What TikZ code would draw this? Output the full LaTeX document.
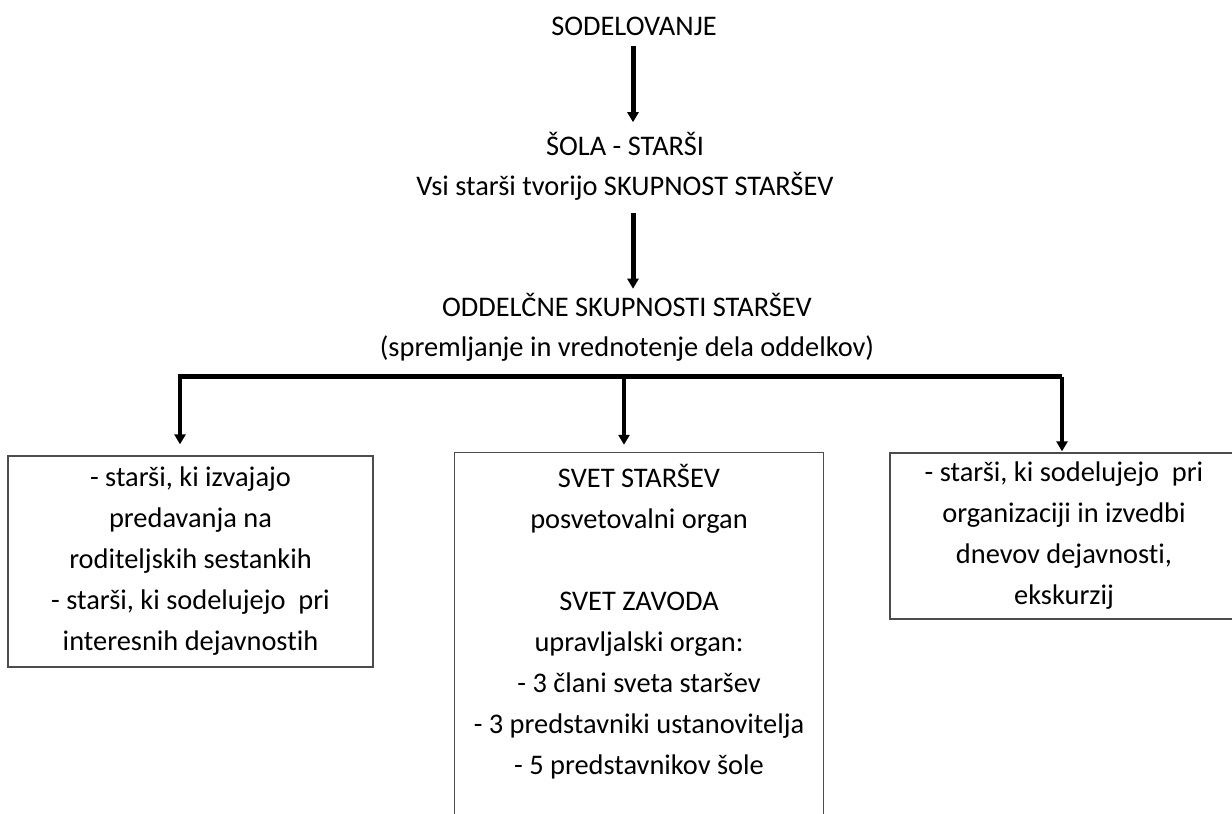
\documentclass[tikz,border=0pt]{standalone}
\usepackage{fontspec}
\setmainfont{Carlito}[Ligatures={NoCommon}]
\usetikzlibrary{arrows.meta}
\begin{document}
\begin{tikzpicture}[x=1pt,y=-1pt,
  txt/.style={font=\fontsize{28.4}{41}\selectfont, align=center, inner sep=0pt},
  toptxt/.style={font=\fontsize{28.4}{40}\selectfont, align=center, inner sep=0pt},
  boxed/.style={txt, draw=black!70, line width=1.3pt},
  arr/.style={line width=5pt, -{Triangle[width=11pt,length=10pt]}},
  brarr/.style={line width=4.5pt, line join=miter, -{Triangle[width=11pt,length=10pt]}},
  edge/.style={draw=black!70, line width=1.3pt}]
\useasboundingbox (0,0) rectangle (1232,814);
\clip (0,0) rectangle (1232,814);

\node[toptxt] (sod) at (634,26) {SODELOVANJE};
\node[toptxt] (sola) at (625,166.5) {ŠOLA - STARŠI\\Vsi starši tvorijo SKUPNOST STARŠEV};
\node[toptxt] (odd) at (627,327) {ODDELČNE SKUPNOSTI STARŠEV\\(spremljanje in vrednotenje dela oddelkov)};

\node[boxed, minimum width=365pt, minimum height=211pt] (lbox) at (190.5,561.5)
  {- starši, ki izvajajo\\predavanja na\\roditeljskih sestankih\\- starši, ki sodelujejo\ \ pri\\interesnih dejavnostih};

\node[txt, minimum width=368pt, minimum height=338pt] (mbox) at (639,622)
  {SVET STARŠEV\\posvetovalni organ\\[41pt]SVET ZAVODA\\upravljalski organ:\\- 3 člani sveta staršev\\- 3 predstavniki ustanovitelja\\- 5 predstavnikov šole};
\draw[edge] ([yshift=-40pt]mbox.south west) -- (mbox.north west) -- (mbox.north east) -- ([yshift=-40pt]mbox.south east);

\node[boxed, minimum width=348pt, minimum height=166pt] (rbox) at (1064,536)
  {- starši, ki sodelujejo\ \ pri\\organizaciji in izvedbi\\dnevov dejavnosti,\\ekskurzij};

\draw[arr] ([xshift=-1pt,yshift=-10pt]sod.south) -- ([xshift=8pt,yshift=10pt]sola.north);
\draw[arr] ([xshift=8pt,yshift=-12pt]sola.south) -- ([xshift=6pt,yshift=4pt]odd.north);

\coordinate (barL) at (180,376.5);
\coordinate (barR) at (1062,376.5);
\coordinate (ltop) at ([xshift=-10.5pt]lbox.north);
\coordinate (mtop) at ([xshift=-15pt]mbox.north);
\coordinate (rtop) at ([xshift=-2pt]rbox.north);
\draw[brarr, shorten >=11pt] (barR) -- (barL) -- (ltop);
\draw[brarr, shorten >=8pt] (mtop |- barL) -- (mtop);
\draw[brarr, shorten >=1pt] (barR) -- (rtop);
\end{tikzpicture}
\end{document}
